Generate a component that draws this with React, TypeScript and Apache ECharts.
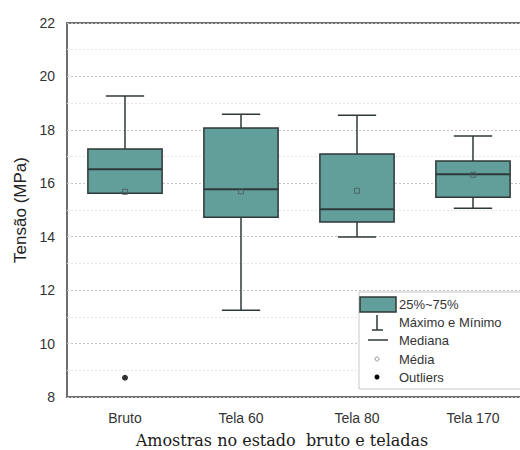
import React, { useEffect, useRef } from "react";
import * as echarts from "echarts";

const categories = ["Bruto", "Tela 60", "Tela 80", "Tela 170"];
// [min, Q1, median, Q3, max]
const boxValues = [
  [15.63, 15.63, 16.53, 17.28, 19.27],
  [11.25, 14.73, 15.78, 18.07, 18.58],
  [13.99, 14.55, 15.03, 17.1, 18.55],
  [15.07, 15.48, 16.34, 16.83, 17.77],
];
const meanValues = [15.68, 15.7, 15.72, 16.32];
const outliers = [[0, 8.72]];
const legendLabels = ["25%~75%", "Máximo e Mínimo", "Mediana", "Média", "Outliers"];
const yAxisName = "Tensão (MPa)";
const xAxisName = "Amostras no estado  bruto e teladas";

const TEAL = "#629e9a";
const DARK = "#2e3838";

export default function App() {
  const ref = useRef<HTMLDivElement>(null);
  useEffect(() => {
    if (!ref.current) return;
    const chart = echarts.init(ref.current, null, { renderer: "svg" });
    const customData = boxValues.map((b, i) => [i, ...b]);
    const rowY = [304, 322, 340, 359, 377];
    const symX = 377;
    chart.setOption({
      animation: false,
      textStyle: { fontFamily: "Liberation Sans, Arial, sans-serif" },
      grid: {
        left: 67,
        top: 23,
        width: 464,
        height: 374,
        show: true,
        borderColor: "#6e6e6e",
        borderWidth: 2,
        backgroundColor: "transparent",
      },
      xAxis: {
        type: "category",
        data: categories,
        boundaryGap: true,
        axisLine: { show: false },
        axisTick: { show: false },
        axisLabel: { color: "#333", fontSize: 14, margin: 14 },
        splitLine: { show: false },
      },
      yAxis: {
        type: "value",
        min: 8,
        max: 22,
        interval: 2,
        name: yAxisName,
        nameLocation: "middle",
        nameGap: 33,
        nameTextStyle: { color: "#222", fontSize: 17 },
        axisLine: { show: false },
        axisTick: { show: false },
        axisLabel: { color: "#333", fontSize: 14, margin: 12 },
        splitLine: { show: true, lineStyle: { color: "#c4c4c4", type: [2, 2], width: 1 } },
        minorTick: { show: false, splitNumber: 2 },
        minorSplitLine: { show: true, lineStyle: { color: "#e6e6e6", type: [2, 2], width: 1 } },
      },
      series: [
        {
          type: "custom",
          data: customData,
          encode: { x: 0, y: [1, 2, 3, 4, 5] },
          z: 3,
          renderItem: (params: any, api: any) => {
            const x = api.value(0);
            const vMin = api.value(1);
            const vQ1 = api.value(2);
            const vMed = api.value(3);
            const vQ3 = api.value(4);
            const vMax = api.value(5);
            const band = api.size([1, 0])[0];
            const w = band * 0.64;
            const cw = band * 0.33;
            const pMin = api.coord([x, vMin]);
            const pQ1 = api.coord([x, vQ1]);
            const pMed = api.coord([x, vMed]);
            const pQ3 = api.coord([x, vQ3]);
            const pMax = api.coord([x, vMax]);
            const cx = pMed[0];
            const lineStyle = { stroke: DARK, lineWidth: 1.5 };
            const children: any[] = [];
            if (vMax > vQ3) {
              children.push({
                type: "line",
                shape: { x1: cx, y1: pQ3[1], x2: cx, y2: pMax[1] },
                style: lineStyle,
              });
              children.push({
                type: "line",
                shape: { x1: cx - cw / 2, y1: pMax[1], x2: cx + cw / 2, y2: pMax[1] },
                style: lineStyle,
              });
            }
            if (vMin < vQ1) {
              children.push({
                type: "line",
                shape: { x1: cx, y1: pQ1[1], x2: cx, y2: pMin[1] },
                style: lineStyle,
              });
              children.push({
                type: "line",
                shape: { x1: cx - cw / 2, y1: pMin[1], x2: cx + cw / 2, y2: pMin[1] },
                style: lineStyle,
              });
            }
            children.push({
              type: "rect",
              shape: { x: cx - w / 2, y: pQ3[1], width: w, height: pQ1[1] - pQ3[1] },
              style: { fill: TEAL, stroke: DARK, lineWidth: 1.5 },
            });
            children.push({
              type: "line",
              shape: { x1: cx - w / 2, y1: pMed[1], x2: cx + w / 2, y2: pMed[1] },
              style: { stroke: DARK, lineWidth: 2 },
            });
            return { type: "group", children };
          },
        },
        {
          type: "scatter",
          data: meanValues.map((v, i) => [i, v]),
          symbol: "rect",
          symbolSize: 5,
          z: 5,
          itemStyle: { color: "transparent", borderColor: "#4a5a5a", borderWidth: 1 },
        },
        {
          type: "scatter",
          data: outliers,
          symbol: "circle",
          symbolSize: 6,
          z: 5,
          itemStyle: { color: "#000" },
        },
      ],
      graphic: [
        {
          type: "text",
          x: 282,
          y: 440,
          z: 10,
          style: {
            text: xAxisName,
            fill: "#1a1a1a",
            font: "16px 'DejaVu Serif', serif",
            align: "center",
            verticalAlign: "middle",
          },
        },
        {
          type: "rect",
          shape: { x: 359, y: 292, width: 162, height: 97 },
          style: { fill: "#fff", stroke: "#c8c8c8", lineWidth: 1 },
          z: 20,
        },
        {
          type: "rect",
          shape: { x: 360, y: 297, width: 36, height: 15 },
          style: { fill: TEAL, stroke: DARK, lineWidth: 1.5 },
          z: 21,
        },
        {
          type: "line",
          shape: { x1: symX, y1: 315, x2: symX, y2: 330 },
          style: { stroke: DARK, lineWidth: 1.5 },
          z: 21,
        },
        {
          type: "line",
          shape: { x1: 372, y1: 330, x2: 383, y2: 330 },
          style: { stroke: DARK, lineWidth: 1.5 },
          z: 21,
        },
        {
          type: "line",
          shape: { x1: 368, y1: 340, x2: 388, y2: 340 },
          style: { stroke: DARK, lineWidth: 1.5 },
          z: 21,
        },
        {
          type: "circle",
          shape: { cx: symX, cy: 359, r: 2 },
          style: { fill: "transparent", stroke: "#999", lineWidth: 1 },
          z: 21,
        },
        {
          type: "circle",
          shape: { cx: symX, cy: 377, r: 2.5 },
          style: { fill: "#000" },
          z: 21,
        },
        ...legendLabels.map((t, i) => ({
          type: "text",
          x: 399,
          y: rowY[i],
          z: 21,
          style: {
            text: t,
            fill: "#333",
            font: "13px 'Liberation Sans', Arial, sans-serif",
            verticalAlign: "middle",
            align: "left",
          },
        })),
      ],
    });
    return () => chart.dispose();
  }, []);
  return (
    <div style={{ position: "fixed", left: 0, top: 0, width: 520, height: 450, overflow: "hidden", background: "#fff" }}>
      <div ref={ref} style={{ width: 540, height: 450 }} />
    </div>
  );
}
